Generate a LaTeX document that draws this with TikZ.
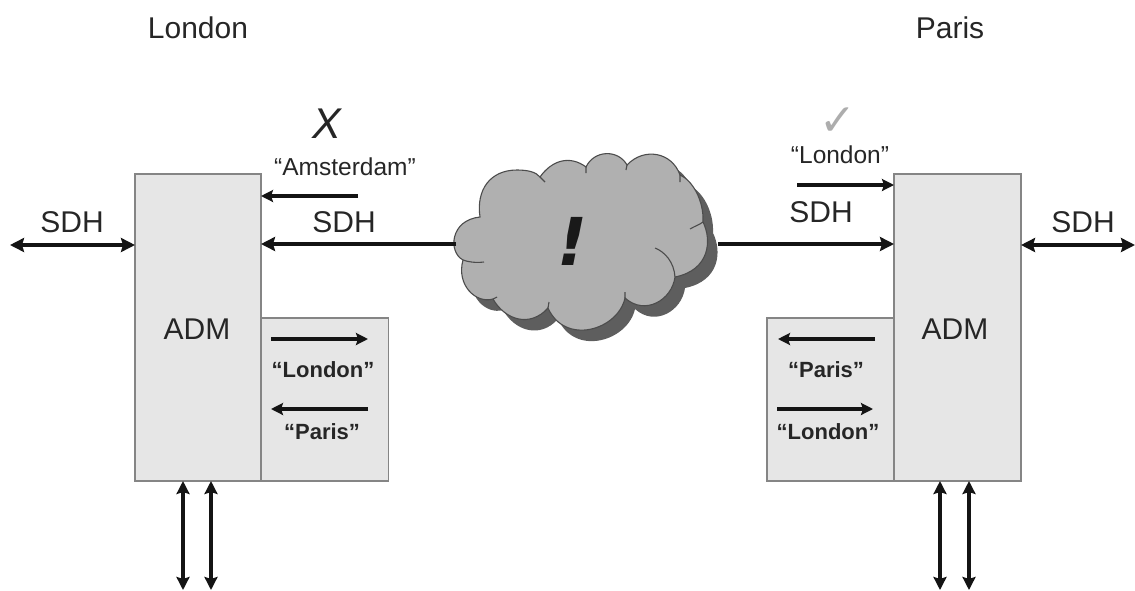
\documentclass[tikz,border=0pt]{standalone}
\usepackage{fontspec}
\setmainfont{Liberation Sans}
\newfontfamily\symfont{DejaVu Sans}
\usetikzlibrary{arrows.meta}
\definecolor{boxfill}{HTML}{E6E6E6}
\definecolor{boxline}{HTML}{858585}
\definecolor{cloudfill}{HTML}{B0B0B0}
\definecolor{cloudshade}{HTML}{5E5E5E}
\definecolor{ink}{HTML}{262626}
\tikzset{
  admbox/.style={draw=boxline,fill=boxfill,line width=1.5pt,inner sep=0pt,outer sep=0pt,anchor=north west},
  lbl/.style={text=ink,inner sep=0pt,font=\fontsize{30}{30}\selectfont},
  sublbl/.style={text=ink,inner sep=0pt,font=\fontsize{24.5}{25}\selectfont},
  sublblb/.style={text=ink,inner sep=0pt,font=\fontsize{22}{22}\bfseries\selectfont},
  heavy/.style={line width=3.8pt,black!92,-{Stealth[length=14pt,width=14pt,inset=2pt]}},
  heavyboth/.style={line width=3.8pt,black!92,{Stealth[length=14pt,width=14pt,inset=2pt]}-{Stealth[length=14pt,width=14pt,inset=2pt]}},
  light/.style={line width=3.2pt,black!92,-{Stealth[length=12pt,width=12pt,inset=2pt]}},
  lightboth/.style={line width=3.2pt,black!92,{Stealth[length=13pt,width=13pt,inset=2pt]}-{Stealth[length=13pt,width=13pt,inset=2pt]}},
}
\def\cloudpath{
  (480,217) .. controls (476,190) and (490,170) .. (517,170)
  .. controls (528,170) and (536,172) .. (540,177)
  .. controls (552,160) and (570,155) .. (586,167)
  .. controls (594,150) and (618,149) .. (627,165)
  .. controls (644,147) and (672,152) .. (680,175)
  .. controls (692,180) and (704,200) .. (703,222)
  .. controls (712,240) and (710,270) .. (675,277)
  .. controls (672,300) and (645,316) .. (625,298)
  .. controls (618,330) and (565,346) .. (548,308)
  .. controls (530,328) and (505,320) .. (493,299)
  .. controls (476,304) and (456,285) .. (463,260)
  .. controls (448,252) and (450,220) .. (480,217) -- cycle
}
\begin{document}
\begin{tikzpicture}[x=1pt,y=-1pt]
\useasboundingbox (0,0) rectangle (1135,590);
% boxes
\node[admbox,minimum width=127pt,minimum height=163pt] (lsub) at (261.5,318) {};
\node[admbox,minimum width=127pt,minimum height=163pt] (rsub) at (767,318) {};
\node[admbox,minimum width=126pt,minimum height=307pt] (ladm) at (135,174) {};
\node[admbox,minimum width=127pt,minimum height=307pt] (radm) at (894,174) {};
% cloud
\fill[cloudshade,shift={(10pt,-11pt)}] \cloudpath;
\draw[fill=cloudfill,draw=black!70,line width=1.1pt] \cloudpath;
\draw[black!70,line width=1.1pt] (540,177) -- (545,182)
  (586,167) -- (586,173) (627,165) -- (626,170)
  (680,175) -- (680,182) (703,222) .. controls (699,225) and (695,226) .. (690,229)
  (675,277) .. controls (674,262) and (665,252) .. (655,248)
  (463,260) .. controls (468,262) and (476,263) .. (484,262)
  (493,299) -- (497,297) (625,298) -- (625,292) (548,308) -- (549,302);
\node[font=\symfont\fontsize{66}{66}\bfseries\itshape\selectfont,text=black!90,inner sep=0pt] (bang) at (573,241) {!};
\coordinate (cloudL) at (456,244);
\coordinate (cloudR) at (718,244);
% free ends
\coordinate (farL) at (10,245);
\coordinate (farR) at (1135,245);
\coordinate (amsE) at (358,196);
\coordinate (lonS) at (797,185);
\coordinate (d1) at (183,590);
\coordinate (d2) at (211,590);
\coordinate (d3) at (940,590);
\coordinate (d4) at (969,590);
% connectors
\draw[heavyboth] (farL) -- (ladm.west |- farL);
\draw[heavy] (cloudL) -- (ladm.east |- cloudL);
\draw[heavy] (cloudR) -- (radm.west |- cloudR);
\draw[heavyboth] (radm.east |- farR) -- (farR);
\draw[light] (amsE) -- (ladm.east |- amsE);
\draw[light] (lonS) -- (radm.west |- lonS);
\draw[lightboth] (ladm.south -| d1) -- (d1);
\draw[lightboth] (ladm.south -| d2) -- (d2);
\draw[lightboth] (radm.south -| d3) -- (d3);
\draw[lightboth] (radm.south -| d4) -- (d4);
\coordinate (a1s) at (271,339); \coordinate (a1e) at (368,339);
\coordinate (a2s) at (368,409); \coordinate (a2e) at (271,409);
\coordinate (a3s) at (875,339); \coordinate (a3e) at (778,339);
\coordinate (a4s) at (777,409); \coordinate (a4e) at (873,409);
\draw[light] (a1s) -- (a1e);
\draw[light] (a2s) -- (a2e);
\draw[light] (a3s) -- (a3e);
\draw[light] (a4s) -- (a4e);
% labels
\node[lbl] (t1) at (198,28) {London};
\node[lbl] (t2) at (950,28) {Paris};
\node[lbl] (t3) at (72,222) {SDH};
\node[lbl] (t4) at (344,222) {SDH};
\node[lbl] (t5) at (821,212) {SDH};
\node[lbl] (t6) at (1083,222) {SDH};
\node[lbl] (t7) at (197,329) {ADM};
\node[lbl] (t8) at (955,329) {ADM};
\node[text=ink,inner sep=0pt,font=\fontsize{43}{43}\itshape\selectfont] (tx) at (327,124) {X};
\node[sublbl] (t9) at (345,167) {“Amsterdam”};
\node[text=black!32,inner sep=0pt,font=\symfont\fontsize{44}{44}\selectfont] (tc) at (838,122) {✓};
\node[sublbl] (t10) at (840,155) {“London”};
\node[sublblb] (t11) at (323,370) {“London”};
\node[sublblb] (t12) at (322,432) {“Paris”};
\node[sublblb] (t13) at (826,370) {“Paris”};
\node[sublblb] (t14) at (828,432) {“London”};
\end{tikzpicture}
\end{document}
